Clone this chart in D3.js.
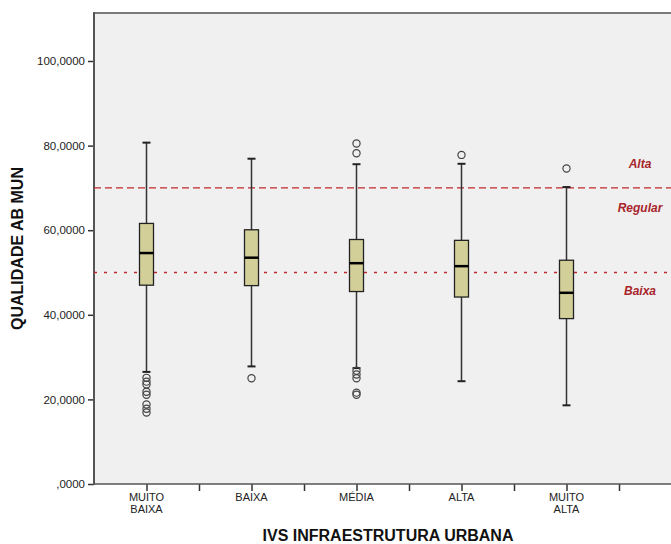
<!DOCTYPE html>
<html><head><meta charset="utf-8">
<script src="https://cdn.jsdelivr.net/npm/d3@7"></script>
<style>body{margin:0;background:#fff}svg{display:block}</style>
</head><body>
<script>
const categories = ["MUITO BAIXA", "BAIXA", "MÉDIA", "ALTA", "MUITO ALTA"];
const whiskerLow  = [26.5, 27.8, 27.4, 24.3, 18.6];
const q1          = [47.0, 46.9, 45.5, 44.2, 39.1];
const median      = [54.6, 53.5, 52.2, 51.5, 45.2];
const q3          = [61.6, 60.1, 57.8, 57.6, 52.9];
const whiskerHigh = [80.7, 76.9, 75.6, 75.7, 70.2];
const outliers = [
  [25.1, 24.2, 23.5, 21.8, 21.1, 18.8, 17.8, 16.9],
  [25.0],
  [80.5, 78.2, 26.8, 25.9, 25.0, 21.6, 21.1],
  [77.8],
  [74.6]
];
const yTicks = [0, 20, 40, 60, 80, 100];
const refLines = [70, 50];
const zoneLabels = [{t:"Alta", v:75.5}, {t:"Regular", v:65}, {t:"Baixa", v:45.5}];

(function(){
const W = 671, H = 544;
const svg = d3.select("body").append("svg").attr("width", W).attr("height", H);
const pL = 94, pT = 13, pB = 484, pR = 671;

const slots = categories.concat([""]);
const x = d3.scaleBand().domain(d3.range(slots.length)).range([pL, pL + 105*6]).padding(0);
const y = d3.scaleLinear().domain([0, 100]).range([pB, 61]);

svg.append("rect").attr("x", pL).attr("y", pT).attr("width", pR - pL + 5).attr("height", pB - pT).attr("fill", "#f0f0f0");
svg.append("line").attr("x1", pL).attr("x2", pR).attr("y1", pT).attr("y2", pT).attr("stroke", "#7a7a7a").attr("stroke-width", 2);

// Y axis
const yAxis = d3.axisLeft(y).tickValues(yTicks).tickSize(6).tickPadding(3)
  .tickFormat(d => d === 0 ? ",0000" : d + ",0000");
const gy = svg.append("g").attr("transform", `translate(${pL},0)`).call(yAxis);
gy.select(".domain").remove();
gy.selectAll(".tick line").attr("stroke", "#333").attr("stroke-width", 1.5);
gy.selectAll("text").attr("font-family", "Liberation Sans, Arial").attr("font-size", 11.5).attr("fill", "#222");
svg.append("line").attr("x1", pL).attr("x2", pL).attr("y1", pT - 1).attr("y2", pB + 1).attr("stroke", "#555").attr("stroke-width", 2);

// X axis
const centers = slots.map((d, i) => x(i) + x.bandwidth()/2);
const boundaries = d3.range(1, slots.length).map(i => x(i));
const xAxis = d3.axisBottom(d3.scaleLinear().domain([0, W]).range([0, W]))
  .tickValues(centers.concat(boundaries)).tickSize(7).tickFormat("");
const gx = svg.append("g").attr("transform", `translate(0,${pB})`).call(xAxis);
gx.select(".domain").remove();
gx.selectAll(".tick line").attr("stroke", "#333").attr("stroke-width", 1.5);
svg.append("line").attr("x1", pL).attr("x2", pR).attr("y1", pB).attr("y2", pB).attr("stroke", "#555").attr("stroke-width", 1.5);

categories.forEach((c, i) => {
  const words = c.split(" ");
  const t = svg.append("text").attr("x", centers[i]).attr("y", 501).attr("text-anchor", "middle")
    .attr("font-family", "Liberation Sans, Arial").attr("font-size", 11).attr("fill", "#222");
  words.forEach((w, j) => t.append("tspan").attr("x", centers[i]).attr("dy", j === 0 ? 0 : 12).text(w));
});

// reference lines
svg.append("line").attr("x1", pL).attr("x2", pR).attr("y1", y(refLines[0])).attr("y2", y(refLines[0]))
  .attr("stroke", "#c0282d").attr("stroke-width", 1.3).attr("stroke-dasharray", "7,4");
svg.append("line").attr("x1", pL).attr("x2", pR).attr("y1", y(refLines[1])).attr("y2", y(refLines[1]))
  .attr("stroke", "#c0282d").attr("stroke-width", 1.3).attr("stroke-dasharray", "3,7");

zoneLabels.forEach(z => {
  svg.append("text").attr("x", 640).attr("y", y(z.v)).attr("text-anchor", "middle").attr("dominant-baseline", "middle")
    .attr("font-family", "Liberation Sans, Arial").attr("font-size", 12).attr("font-weight", "bold").attr("font-style", "italic")
    .attr("fill", "#a8262b").text(z.t);
});

// boxes
const bw = 14;
categories.forEach((c, i) => {
  const cx = centers[i];
  const g = svg.append("g");
  g.append("line").attr("x1", cx).attr("x2", cx).attr("y1", y(whiskerLow[i])).attr("y2", y(whiskerHigh[i]))
    .attr("stroke", "#333").attr("stroke-width", 1.5);
  [whiskerLow[i], whiskerHigh[i]].forEach(v => g.append("line").attr("x1", cx - 4).attr("x2", cx + 4)
    .attr("y1", y(v)).attr("y2", y(v)).attr("stroke", "#222").attr("stroke-width", 2));
  g.append("rect").attr("x", cx - bw/2).attr("y", y(q3[i])).attr("width", bw).attr("height", y(q1[i]) - y(q3[i]))
    .attr("fill", "#d3cf98").attr("stroke", "#222").attr("stroke-width", 1.3);
  g.append("line").attr("x1", cx - bw/2).attr("x2", cx + bw/2).attr("y1", y(median[i])).attr("y2", y(median[i]))
    .attr("stroke", "#000").attr("stroke-width", 2.5);
  outliers[i].forEach(v => g.append("circle").attr("cx", cx).attr("cy", y(v)).attr("r", 3.6)
    .attr("fill", "none").attr("stroke", "#444").attr("stroke-width", 1.2));
});

// titles
svg.append("text").attr("transform", `translate(23,${(pT+pB)/2}) rotate(-90)`).attr("text-anchor", "middle")
  .attr("font-family", "Liberation Sans, Arial").attr("font-size", 16).attr("font-weight", "bold").attr("fill", "#111")
  .text("QUALIDADE AB MUN");
svg.append("text").attr("x", 388).attr("y", 541).attr("text-anchor", "middle")
  .attr("font-family", "Liberation Sans, Arial").attr("font-size", 16).attr("font-weight", "bold").attr("fill", "#111")
  .text("IVS INFRAESTRUTURA URBANA");
})();
</script>
</body></html>
